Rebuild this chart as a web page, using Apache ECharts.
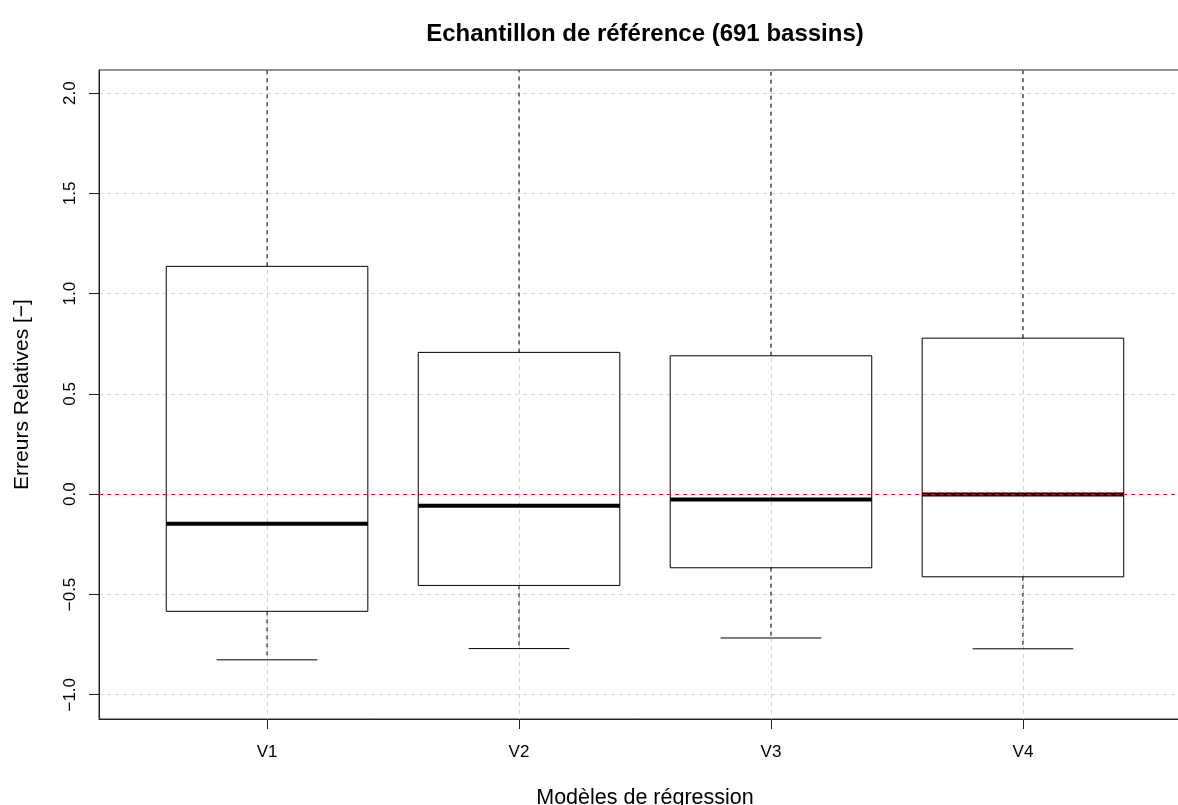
<!DOCTYPE html>
<html>
<head>
<meta charset="utf-8">
<script src="https://cdn.jsdelivr.net/npm/echarts@6/dist/echarts.min.js"></script>
<style>html,body{margin:0;padding:0;background:#fff}#c{width:1178px;height:805px}</style>
</head>
<body>
<div id="c"></div>
<script>
const categories = ['V1', 'V2', 'V3', 'V4'];
const lowerWhisker = [-0.826, -0.770, -0.717, -0.771];
const q1 = [-0.584, -0.455, -0.367, -0.412];
const median = [-0.148, -0.058, -0.026, -0.002];
const q3 = [1.136, 0.707, 0.690, 0.778];
const upperWhisker = [2.6, 2.4, 2.3, 2.4]; // beyond the visible range (clipped at top)
const yTicks = [-1.0, -0.5, 0.0, 0.5, 1.0, 1.5, 2.0];
const refLineValue = 0;
const titleText = 'Echantillon de référence (691 bassins)';
const xTitle = 'Modèles de régression';
const yTitle = 'Erreurs Relatives [−]';

const FONT = '"Liberation Sans", Arial, Helvetica, sans-serif';
const xPositions = categories.map((c, i) => i + 1);
const boxData = categories.map((c, i) => [xPositions[i], lowerWhisker[i], q1[i], median[i], q3[i], upperWhisker[i]]);

const chart = echarts.init(document.getElementById('c'));
const dash = [4, 4];

function renderBox(params, api) {
  const x = api.value(0);
  const lo = api.coord([x, api.value(1)]);
  const b1 = api.coord([x - 0.4, api.value(2)]);
  const b2 = api.coord([x + 0.4, api.value(4)]);
  const m1 = api.coord([x - 0.4, api.value(3)]);
  const m2 = api.coord([x + 0.4, api.value(3)]);
  const hi = api.coord([x, api.value(5)]);
  const c1 = api.coord([x - 0.2, api.value(1)]);
  const c2 = api.coord([x + 0.2, api.value(1)]);
  const cx = lo[0];
  return {
    type: 'group',
    children: [
      { type: 'line', shape: { x1: cx, y1: b1[1], x2: cx, y2: lo[1] }, style: { stroke: '#000', lineWidth: 1, lineDash: dash } },
      { type: 'line', shape: { x1: cx, y1: b2[1], x2: cx, y2: hi[1] }, style: { stroke: '#000', lineWidth: 1, lineDash: dash } },
      { type: 'line', shape: { x1: c1[0], y1: c1[1], x2: c2[0], y2: c2[1] }, style: { stroke: '#000', lineWidth: 1 } },
      { type: 'rect', shape: { x: b1[0], y: b2[1], width: b2[0] - b1[0], height: b1[1] - b2[1] }, style: { fill: 'none', stroke: '#000', lineWidth: 1 } },
      { type: 'line', shape: { x1: m1[0], y1: m1[1], x2: m2[0], y2: m2[1] }, style: { stroke: '#000', lineWidth: 4 } }
    ]
  };
}

const fmtY = v => (v < 0 ? '−' : '') + Math.abs(v).toFixed(1);

chart.setOption({
  animation: false,
  backgroundColor: '#fff',
  textStyle: { fontFamily: FONT },
  graphic: [{
    type: 'text', x: 645, y: 34,
    style: { text: titleText, font: 'bold 24px ' + FONT, fill: '#000', textAlign: 'center', textVerticalAlign: 'middle' }
  }],
  grid: { left: 99, top: 70, width: 1092, height: 649, outerBoundsMode: 'none', containLabel: false, show: true, borderColor: '#222', borderWidth: 1, backgroundColor: 'transparent' },
  xAxis: {
    type: 'value', min: 0.333, max: 4.667,
    name: xTitle, nameLocation: 'middle', nameGap: 68,
    nameTextStyle: { fontSize: 21.5, color: '#000', fontFamily: FONT },
    axisLine: { show: true, onZero: false, lineStyle: { color: '#222', width: 1 } },
    axisTick: { show: true, length: 10, customValues: xPositions, lineStyle: { color: '#222' } },
    axisLabel: { customValues: xPositions, formatter: v => categories[Math.round(v) - 1] || '', fontSize: 17, color: '#000', margin: 25, fontFamily: FONT },
    splitLine: { show: true, lineStyle: { color: '#d3d3d3', type: dash, width: 1 } }
  },
  yAxis: {
    type: 'value', min: -1.121, max: 2.115,
    name: yTitle, nameLocation: 'middle', nameGap: 66, nameRotate: 90,
    nameTextStyle: { fontSize: 21, color: '#000', fontFamily: FONT },
    axisLine: { show: true, onZero: false, lineStyle: { color: '#222', width: 1 } },
    axisTick: { show: true, length: 10, customValues: yTicks, lineStyle: { color: '#222' } },
    axisLabel: { customValues: yTicks, formatter: fmtY, rotate: 90, fontSize: 17, color: '#000', margin: 20, fontFamily: FONT },
    splitLine: { show: true, lineStyle: { color: '#d3d3d3', type: dash, width: 1 } }
  },
  series: [{
    type: 'custom',
    renderItem: renderBox,
    data: boxData,
    clip: true,
    encode: { x: 0, y: [1, 2, 3, 4, 5] },
    silent: true,
    z: 3,
    markLine: {
      silent: true, symbol: ['none', 'none'], label: { show: false },
      lineStyle: { color: '#ff0000', type: dash, width: 1 },
      data: [{ yAxis: refLineValue }],
      z: 5
    }
  }]
});
</script>
</body>
</html>
